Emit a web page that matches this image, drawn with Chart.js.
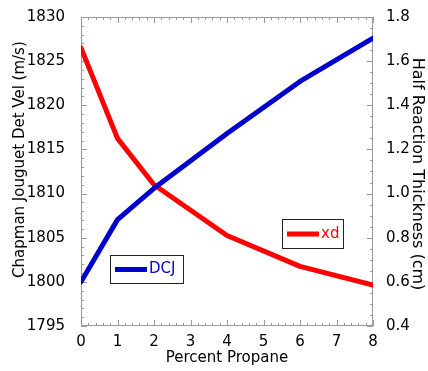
<!DOCTYPE html>
<html>
<head>
<meta charset="utf-8">
<script src="https://cdn.jsdelivr.net/npm/chart.js@4.4.1/dist/chart.umd.min.js"></script>
<style>
    html, body { margin: 0; padding: 0; background: #fff; }
    #wrap { width: 428px; height: 371px; }
</style>
</head>
<body>
<div id="wrap"><canvas id="chart"></canvas></div>
<script>
// ---- data ----
const percentPropane = [0, 1, 2, 4, 6, 8];
const dcjValues = [1800, 1807.05, 1810.6, 1816.8, 1822.7, 1827.6];
const xdValues = [1.66, 1.25, 1.04, 0.81, 0.67, 0.585];

const velRange = [1795, 1830];
const thickRange = [0.4, 1.8];
const propaneRange = [0, 8];

const FONT = 'DejaVu Sans';
const BLUE = '#0000cc';
const RED = '#ff0000';
const FRAME = '#9a9a9a';

// frame + inward tick marks (major and minor) on all four sides
const innerTicks = {
    id: 'innerTicks',
    beforeDatasetsDraw(chart) {
        const { ctx, chartArea: a, scales } = chart;
        ctx.save();
        ctx.strokeStyle = FRAME;
        ctx.lineWidth = 1;
        ctx.strokeRect(a.left + 0.5, a.top + 0.5, a.right - a.left - 1, a.bottom - a.top - 1);

        const mark = (x1, y1, x2, y2) => {
            ctx.beginPath();
            ctx.moveTo(x1, y1);
            ctx.lineTo(x2, y2);
            ctx.stroke();
        };

        // x: minor every 0.2, major every 1
        for (let i = 0; i <= 40; i++) {
            const x = Math.round(scales.x.getPixelForValue(i * 0.2)) + 0.5;
            const len = i % 5 === 0 ? 6 : 3;
            mark(x, a.bottom, x, a.bottom - len);
            mark(x, a.top, x, a.top + len);
        }
        // left: minor every 1, major every 5
        for (let i = 0; i <= 35; i++) {
            const y = Math.round(scales.yVel.getPixelForValue(velRange[0] + i)) + 0.5;
            const len = i % 5 === 0 ? 6 : 3;
            mark(a.left, y, a.left + len, y);
        }
        // right: minor every 0.05, major every 0.2
        for (let i = 0; i <= 28; i++) {
            const y = Math.round(scales.yThick.getPixelForValue(thickRange[0] + i * 0.05)) + 0.5;
            const len = i % 4 === 0 ? 6 : 3;
            mark(a.right, y, a.right - len, y);
        }
        ctx.restore();
    }
};

// boxed legends placed inside the plot like the original
const boxLegends = {
    id: 'boxLegends',
    afterDatasetsDraw(chart) {
        const { ctx, chartArea: a } = chart;
        const spots = [
            { ds: 0, x: a.left + 29, y: a.top + 238, w: 73, h: 28 },
            { ds: 1, x: a.left + 201, y: a.top + 202, w: 61, h: 29 }
        ];
        ctx.save();
        spots.forEach(s => {
            const ds = chart.data.datasets[s.ds];
            ctx.fillStyle = '#fff';
            ctx.fillRect(s.x, s.y, s.w, s.h);
            ctx.strokeStyle = '#222';
            ctx.lineWidth = 1;
            ctx.strokeRect(s.x + 0.5, s.y + 0.5, s.w, s.h);
            const midY = s.y + s.h / 2 + 0.5;
            ctx.strokeStyle = ds.borderColor;
            ctx.lineWidth = 5;
            ctx.lineCap = 'butt';
            ctx.beginPath();
            ctx.moveTo(s.x + 5, midY);
            ctx.lineTo(s.x + 37, midY);
            ctx.stroke();
            ctx.fillStyle = ds.borderColor;
            ctx.font = '15px "' + FONT + '"';
            ctx.textBaseline = 'middle';
            ctx.textAlign = 'left';
            ctx.fillText(ds.label, s.x + 39, midY);
        });
        ctx.restore();
    }
};

new Chart(document.getElementById('chart'), {
    type: 'line',
    data: {
        datasets: [
            {
                label: 'DCJ',
                data: percentPropane.map((p, i) => ({ x: p, y: dcjValues[i] })),
                yAxisID: 'yVel',
                borderColor: BLUE,
                borderWidth: 5,
                borderCapStyle: 'round',
                borderJoinStyle: 'round',
                pointRadius: 0,
                tension: 0
            },
            {
                label: 'xd',
                data: percentPropane.map((p, i) => ({ x: p, y: xdValues[i] })),
                yAxisID: 'yThick',
                borderColor: RED,
                borderWidth: 5,
                borderCapStyle: 'round',
                borderJoinStyle: 'round',
                pointRadius: 0,
                tension: 0
            }
        ]
    },
    options: {
        responsive: true,
        maintainAspectRatio: false,
        animation: false,
        layout: { padding: { top: 16 } },
        plugins: {
            legend: { display: false },
            tooltip: { enabled: false }
        },
        scales: {
            x: {
                type: 'linear',
                min: propaneRange[0],
                max: propaneRange[1],
                afterFit: (s) => { s.height = 45; },
                grid: { display: false },
                border: { display: false },
                ticks: { stepSize: 1, padding: -1, color: '#000', font: { family: FONT, size: 15 } },
                title: {
                    display: true,
                    text: 'Percent Propane',
                    color: '#000',
                    font: { family: FONT, size: 15 },
                    padding: { top: 0, bottom: 4 }
                }
            },
            yVel: {
                type: 'linear',
                position: 'left',
                min: velRange[0],
                max: velRange[1],
                afterFit: (s) => { s.width = 81; },
                grid: { display: false },
                border: { display: false },
                ticks: {
                    stepSize: 5,
                    padding: 8,
                    color: '#000',
                    font: { family: FONT, size: 15 },
                    callback: (v) => String(v)
                },
                title: {
                    display: true,
                    text: '     Chapman Jouguet Det Vel (m/s)',
                    color: '#000',
                    font: { family: FONT, size: 15 },
                    padding: { top: 11, bottom: 0 }
                }
            },
            yThick: {
                type: 'linear',
                position: 'right',
                min: thickRange[0],
                max: thickRange[1],
                afterFit: (s) => { s.width = 55; },
                grid: { display: false },
                border: { display: false },
                ticks: {
                    stepSize: 0.2,
                    padding: 5,
                    color: '#000',
                    font: { family: FONT, size: 15 },
                    callback: (v) => v.toFixed(1)
                },
                title: {
                    display: true,
                    text: ' Half Reaction Thickness (cm)',
                    color: '#000',
                    font: { family: FONT, size: 16 },
                    padding: { top: 1, bottom: 0 }
                }
            }
        }
    },
    plugins: [innerTicks, boxLegends]
});
</script>
</body>
</html>
